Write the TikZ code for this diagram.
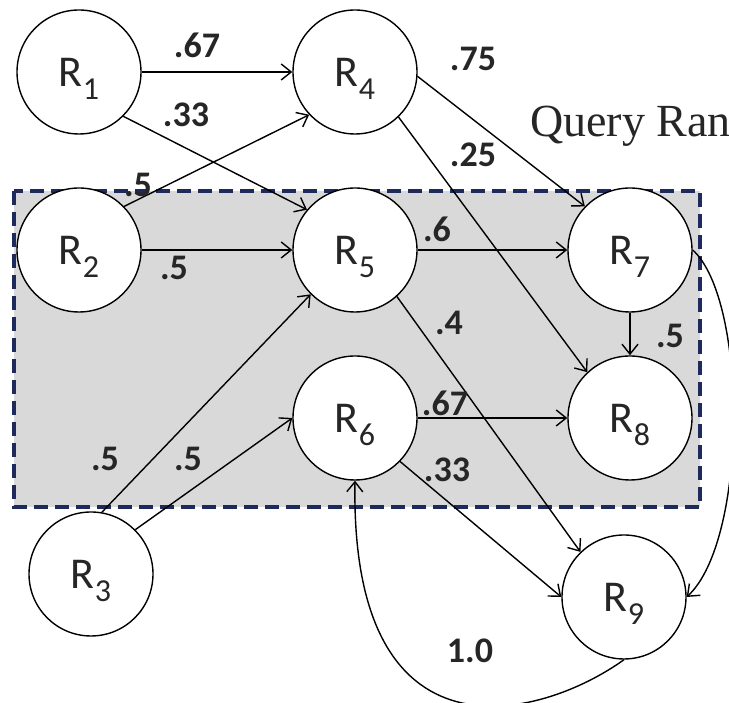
\documentclass[tikz,border=0pt]{standalone}
\usepackage{fontspec}
\newfontfamily\lab{Carlito}
\newfontfamily\qfont{Liberation Serif}
\usetikzlibrary{arrows.meta}
\definecolor{navy}{RGB}{31,42,92}
\definecolor{boxgray}{RGB}{217,217,217}
\definecolor{ink}{RGB}{38,38,38}
\newcommand{\Rn}[1]{{\fontsize{44}{44}\selectfont R\raisebox{-13pt}{\fontsize{32}{32}\selectfont #1}}}
\begin{document}
\begin{tikzpicture}[x=1pt,y=1pt,
  state/.style={circle,draw=black,line width=1.4pt,fill=white,minimum size=124pt,inner sep=0pt,font=\lab,text=ink,text height=44pt,text depth=14pt},
  wt/.style={font=\lab\bfseries\fontsize{36}{36}\selectfont,text=ink,inner sep=0pt},
  edge/.style={line width=1.4pt,draw=black,-{Straight Barb[length=10pt,width=16pt]}},
  region/.style={fill=boxgray,draw=navy,line width=4pt,dash pattern=on 14pt off 7pt}]
\useasboundingbox (0,0) rectangle (729,703);
\fill[white] (0,0) rectangle (729,703);
% query range box
\draw[region] (14,512) rectangle (700,196);
\begin{scope}
\clip (0,0) rectangle (729,703);
\node[font=\qfont\fontsize{46}{46}\selectfont,text=ink,anchor=base west,inner sep=0pt] (qr) at (530,566) {Query Range};
\end{scope}
% states
\node[state] (R1) at (79,631) {\Rn{1}};
\node[state] (R4) at (355,631) {\Rn{4}};
\node[state] (R2) at (79,453) {\Rn{2}};
\node[state] (R5) at (355,453) {\Rn{5}};
\node[state] (R7) at (630,453) {\Rn{7}};
\node[state] (R6) at (355,285) {\Rn{6}};
\node[state] (R8) at (630,285) {\Rn{8}};
\node[state] (R3) at (91,129) {\Rn{3}};
\node[state] (R9) at (624,106) {\Rn{9}};
% edges
\draw[edge] (R1) -- (R4);
\draw[edge] (R1.-45) -- (R5.140);
\draw[edge] (R2.44) -- (R4.223);
\draw[edge] (R2) -- (R5);
\draw[edge] (R3.80) -- (R5.225);
\draw[edge] (R3.45) -- (R6.180);
\draw[edge] (R4.-4) -- (R7.136);
\draw[edge] (R4.-46) -- (R8.133);
\draw[edge] (R5) -- (R7);
\draw[edge] (R5.-48) -- (R9.134);
\draw[edge] (R6) -- (R8);
\draw[edge] (R6.-44) -- (R9.180);
\draw[edge] (R7) -- (R8);
\draw[edge] (R7.east) .. controls (748,403) and (748,163) .. (R9.east);
\draw[edge] (R9.south) .. controls (540,-17) and (350,-67) .. (R6.south);
% weights
\node[wt] (w14) at (197,658) {.67};
\node[wt] (w15) at (186,588) {.33};
\node[wt] (w24) at (138,518) {.5};
\node[wt] (w25) at (174,435) {.5};
\node[wt] (w35) at (105,244) {.5};
\node[wt] (w36) at (188,244) {.5};
\node[wt] (w47) at (473,644) {.75};
\node[wt] (w48) at (473,548) {.25};
\node[wt] (w57) at (437,474) {.6};
\node[wt] (w59) at (449,380) {.4};
\node[wt] (w68) at (445,300) {.67};
\node[wt] (w69) at (447,233) {.33};
\node[wt] (w78) at (670,367) {.5};
\node[wt] (w96) at (470,52) {1.0};
\end{tikzpicture}
\end{document}
